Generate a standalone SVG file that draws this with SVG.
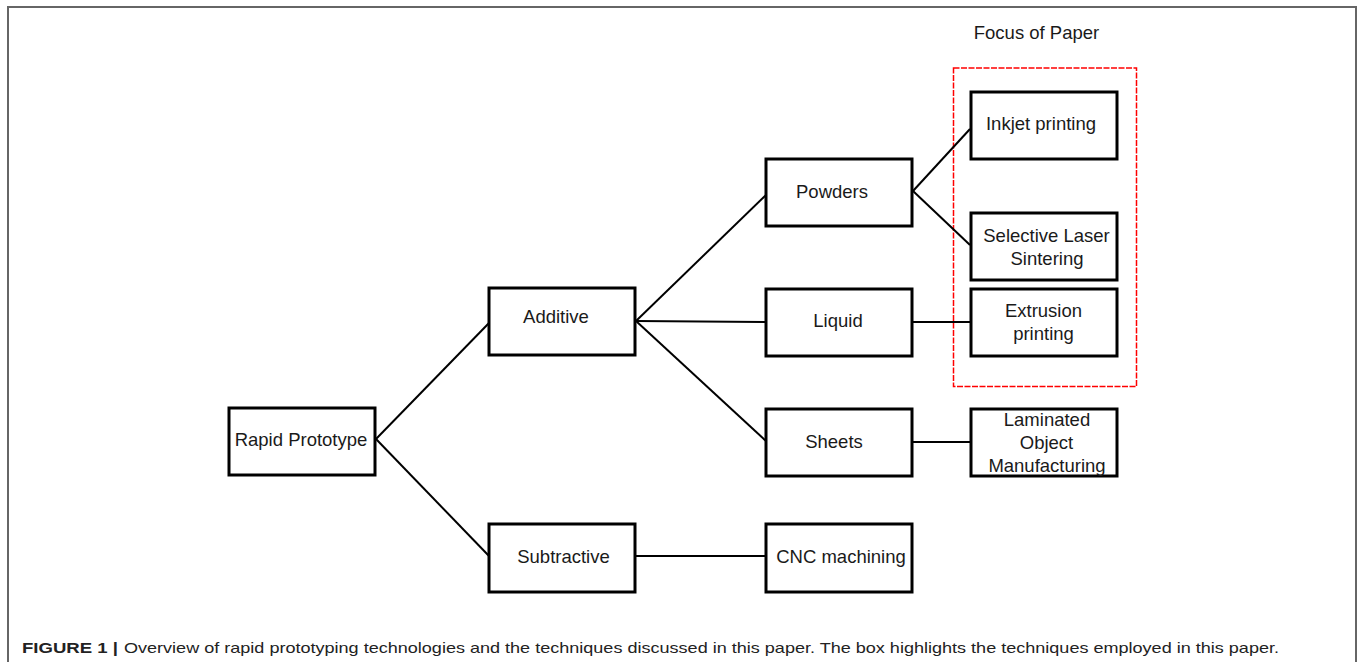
<svg xmlns="http://www.w3.org/2000/svg" width="1360" height="662" viewBox="0 0 1360 662">
<style>
.box{fill:#fff;stroke:#000;stroke-width:3}
.lbl{font-family:"Liberation Sans",Arial,sans-serif;font-size:18.5px;fill:#1a1a1a;text-anchor:middle}
.con{stroke:#000;stroke-width:2;fill:none}
.cap{font-family:"Liberation Sans",Arial,sans-serif;font-size:15px;fill:#222}
</style>
<rect width="1360" height="662" fill="#fff"/>
<path d="M8 662 V7 H1356 V662" fill="none" stroke="#666" stroke-width="2"/>
<g id="focus">
<rect x="953.5" y="68" width="183" height="318.5" fill="none" stroke="#f00" stroke-width="1.5" stroke-dasharray="6,1.5"/>
<text class="lbl" x="1036.5" y="39">Focus of Paper</text>
</g>
<g id="connectors">
<line class="con" x1="376" y1="439" x2="489" y2="323"/>
<line class="con" x1="376" y1="439" x2="489" y2="556"/>
<line class="con" x1="636" y1="321" x2="766" y2="195"/>
<line class="con" x1="636" y1="321" x2="766" y2="322"/>
<line class="con" x1="636" y1="321" x2="766" y2="441"/>
<line class="con" x1="913" y1="191" x2="970" y2="129"/>
<line class="con" x1="913" y1="191" x2="970" y2="245"/>
<line class="con" x1="913" y1="322" x2="970" y2="322"/>
<line class="con" x1="913" y1="442" x2="970" y2="442"/>
<line class="con" x1="636" y1="556" x2="766" y2="556"/>
</g>
<g id="rapid"><rect class="box" x="229" y="408" width="146" height="67"/><text class="lbl" x="301" y="446">Rapid Prototype</text></g>
<g id="additive"><rect class="box" x="489" y="288" width="146" height="67"/><text class="lbl" x="556" y="323">Additive</text></g>
<g id="subtractive"><rect class="box" x="489" y="524" width="146" height="68"/><text class="lbl" x="563.5" y="563">Subtractive</text></g>
<g id="powders"><rect class="box" x="766" y="159" width="146" height="67"/><text class="lbl" x="832" y="198">Powders</text></g>
<g id="liquid"><rect class="box" x="766" y="289" width="146" height="67"/><text class="lbl" x="838" y="327">Liquid</text></g>
<g id="sheets"><rect class="box" x="766" y="409" width="146" height="67"/><text class="lbl" x="834" y="448">Sheets</text></g>
<g id="cnc"><rect class="box" x="766" y="524" width="146" height="68"/><text class="lbl" x="841" y="563">CNC machining</text></g>
<g id="inkjet"><rect class="box" x="971" y="92" width="146" height="67"/><text class="lbl" x="1041" y="130">Inkjet printing</text></g>
<g id="sls"><rect class="box" x="971" y="213" width="146" height="67"/><text class="lbl" x="1046.5" y="242">Selective Laser</text><text class="lbl" x="1047" y="265">Sintering</text></g>
<g id="extrusion"><rect class="box" x="971" y="289" width="146" height="67"/><text class="lbl" x="1043.5" y="317">Extrusion</text><text class="lbl" x="1043.5" y="340">printing</text></g>
<g id="lom"><rect class="box" x="971" y="409" width="146" height="67"/><text class="lbl" x="1047" y="426">Laminated</text><text class="lbl" x="1046.5" y="449">Object</text><text class="lbl" x="1047" y="472">Manufacturing</text></g>
<g id="caption">
<text class="cap" x="22" y="653" font-weight="bold" textLength="96" lengthAdjust="spacingAndGlyphs">FIGURE 1 |</text>
<text class="cap" x="124" y="653" textLength="1155" lengthAdjust="spacingAndGlyphs">Overview of rapid prototyping technologies and the techniques discussed in this paper. The box highlights the techniques employed in this paper.</text>
</g>
</svg>
